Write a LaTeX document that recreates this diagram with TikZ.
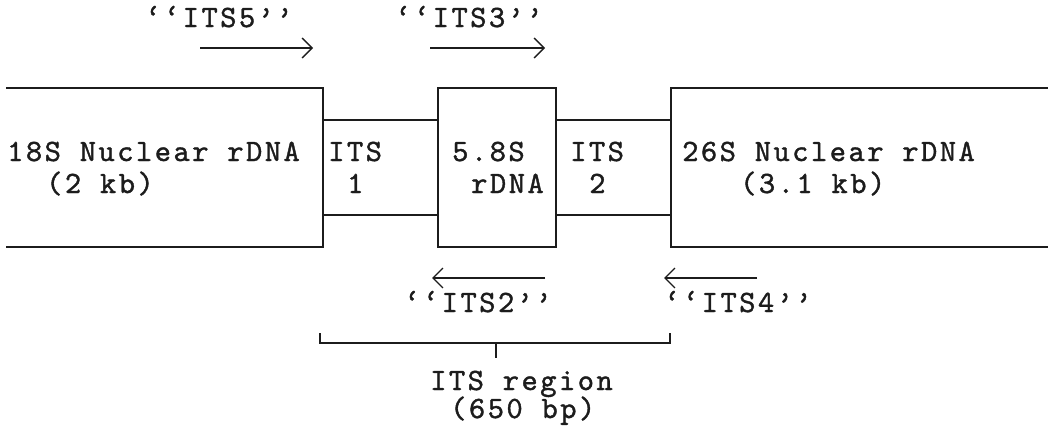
\documentclass[tikz,border=0pt]{standalone}
\usepackage{fontspec}
\usepackage{tikz}
\usetikzlibrary{arrows.meta,positioning}
\newfontfamily\dnafont{lmmono10-regular}[Extension=.otf,LetterSpace=8,FakeBold=1.2]
\definecolor{inkblk}{HTML}{1C1C1C}
\tikzset{
  seg/.style  = {draw=inkblk, line width=1.7pt},
  pr/.style   = {draw=inkblk, line width=1.3pt,
                 -{Straight Barb[length=10pt,width=20pt]}},
  lbl/.style  = {anchor=base west, inner sep=0pt, text=inkblk,
                 font=\fontsize{31}{34}\selectfont\dnafont},
}
\begin{document}
\begin{tikzpicture}[x=1pt,y=-1pt]
  \useasboundingbox (0,0) rectangle (1048,426);
  % gene blocks
  \draw[seg] (6,88) -- (323,88) -- (323,247) -- (6,247);
  \draw[seg] (323,120) -- (438,120) (323,215) -- (438,215);
  \draw[seg] (438,88) rectangle (556,247);
  \draw[seg] (556,120) -- (671,120) (556,215) -- (671,215);
  \draw[seg] (1048,88) -- (671,88) -- (671,247) -- (1048,247);
  % block labels
  \node[lbl] (s18)  at (7,161)   {18S Nuclear rDNA};
  \node[lbl] (s18b) at (46,193)  {(2 kb)};
  \node[lbl] (its1) at (328,161) {ITS};
  \node[lbl] (its1b) at (347,193) {1};
  \node[lbl] (s58)  at (452,161) {5.8S};
  \node[lbl] (s58b) at (471,193) {rDNA};
  \node[lbl] (its2) at (570,161) {ITS};
  \node[lbl] (its2b) at (589,193) {2};
  \node[lbl] (s26)  at (682,161) {26S Nuclear rDNA};
  \node[lbl] (s26b) at (740,193) {(3.1 kb)};
  % primers
  \node[lbl] (p5) at (145,27)  {‘‘ITS5’’};
  \node[lbl] (p3) at (395,27)  {‘‘ITS3’’};
  \node[lbl] (p2) at (404,312) {‘‘ITS2’’};
  \node[lbl] (p4) at (664,312) {‘‘ITS4’’};
  \coordinate (p5a) at (200,48);  \coordinate (p5b) at (313,48);
  \coordinate (p3a) at (430,48);  \coordinate (p3b) at (545,48);
  \coordinate (p2a) at (545,278); \coordinate (p2b) at (432,278);
  \coordinate (p4a) at (757,278); \coordinate (p4b) at (664,278);
  \draw[pr] (p5a) -- (p5b);
  \draw[pr] (p3a) -- (p3b);
  \draw[pr] (p2a) -- (p2b);
  \draw[pr] (p4a) -- (p4b);
  % ITS region bracket
  \coordinate (bl) at (320,343); \coordinate (br) at (670,343);
  \coordinate (bm) at (496,343);
  \draw[seg] ([yshift=10pt]bl) -- (bl) -- (br) -- ([yshift=10pt]br);
  \draw[seg] (bm) -- ([yshift=-15pt]bm);
  \node[lbl] (reg)  at (430,390) {ITS region};
  \node[lbl] (regb) at (450,418) {(650 bp)};
\end{tikzpicture}
\end{document}
